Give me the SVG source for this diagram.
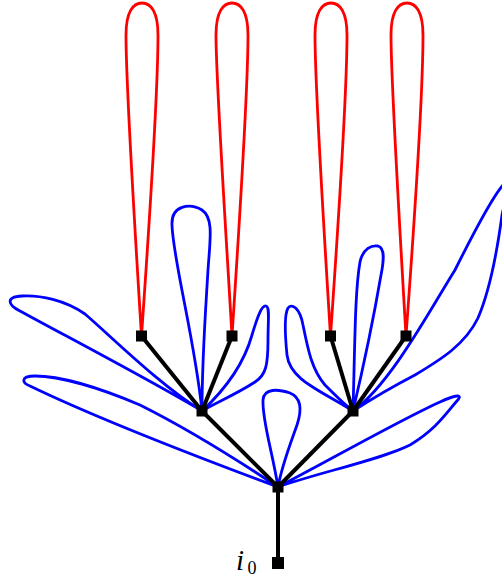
<svg xmlns="http://www.w3.org/2000/svg" width="502" height="579" viewBox="0 0 502 579">
<style>
.edge{stroke:#000;stroke-width:4;fill:none}
.blue{stroke:#0000ff;stroke-width:2.8;fill:none;stroke-linejoin:round}
.red{stroke:#ff0000;stroke-width:2.8;fill:none;stroke-linejoin:round}
.node{fill:#000}
.lbl{font-family:"Liberation Serif","DejaVu Serif",serif;fill:#000}
</style>
<rect width="502" height="579" fill="#fff"/>
<g id="connectors">
  <path class="blue" d="M202,411 C160,385 115,340 85,314 C65,300 40,295 22,296 C5,297 8,305 20,311 C60,333 150,380 202,411 Z"/>
  <path class="blue" d="M278,487 C230,455 180,425 140,405 C100,388 60,376 35,376 C20,376 22,383 30,386 C90,415 200,458 278,487 Z"/>
  <path class="blue" d="M202,411 C195,340 173,260 172,225 C171,205 190,203 202,210 C214,218 210,240 208,270 C205,320 202,360 202,411 Z"/>
  <path class="blue" d="M202,411 C230,385 245,360 252,335 C258,315 262,305 266,306 C270,307 268,320 268,340 C268,365 266,375 255,382 C235,395 215,403 202,411 Z"/>
  <path class="blue" d="M353,411 C320,390 290,380 287,355 C285,335 284,315 288,308 C292,303 300,308 303,325 C308,350 312,370 325,385 C335,395 345,405 353,411 Z"/>
  <path class="blue" d="M353,411 C355,340 355,290 360,262 C363,248 372,245 378,246 C385,248 384,260 381,275 C375,310 365,360 353,411 Z"/>
  <path class="blue" d="M353,411 C390,385 430,310 455,270 C475,230 495,192 505,183 C512,180 505,200 502,215 C498,245 490,290 478,318 C465,345 440,360 415,375 C390,388 370,400 353,411 Z"/>
  <path class="blue" d="M278,487 C272,450 262,420 263,400 C264,388 278,389 290,393 C302,398 302,410 297,425 C290,445 282,465 278,487 Z"/>
  <path class="blue" d="M278,487 C330,460 400,420 440,402 C455,395 465,393 456,402 C445,415 435,430 410,445 C380,460 320,472 278,487 Z"/>
  <path class="red" d="M141.5,336 C133,200 126,80 126,35 C126,12 133,3 142,3 C151,3 158,12 158,35 C158,80 151,200 141.5,336 Z"/>
  <path class="red" d="M232,336 C224,200 216,80 216,35 C216,12 223,3 232,3 C241,3 248,12 248,35 C248,80 241,200 232,336 Z"/>
  <path class="red" d="M330.5,336 C322,200 315,80 315,35 C315,12 322,3 331,3 C340,3 347,12 347,35 C347,80 340,200 330.5,336 Z"/>
  <path class="red" d="M406,336 C398,200 391,80 391,35 C391,12 398,3 407,3 C416,3 423,12 423,35 C423,80 416,200 406,336 Z"/>
  <line class="edge" x1="278" y1="563" x2="278" y2="487"/>
  <line class="edge" x1="278" y1="487" x2="202" y2="411"/>
  <line class="edge" x1="278" y1="487" x2="353" y2="411"/>
  <line class="edge" x1="202" y1="411" x2="141.5" y2="336"/>
  <line class="edge" x1="202" y1="411" x2="232" y2="336"/>
  <line class="edge" x1="353" y1="411" x2="330.5" y2="336"/>
  <line class="edge" x1="353" y1="411" x2="406" y2="336"/>
</g>
<g id="n_root"><rect class="node" x="272" y="557" width="12" height="12"/>
  <text class="lbl" x="236" y="570" font-size="29" font-style="italic">i</text><text class="lbl" x="247.5" y="574" font-size="18">0</text></g>
<g id="n_mid"><rect class="node" x="272.5" y="481.5" width="11" height="11"/></g>
<g id="n_left"><rect class="node" x="196.5" y="405.5" width="11" height="11"/></g>
<g id="n_right"><rect class="node" x="347.5" y="405.5" width="11" height="11"/></g>
<g id="n_l1"><rect class="node" x="136" y="330.5" width="11" height="11"/></g>
<g id="n_l2"><rect class="node" x="226.5" y="330.5" width="11" height="11"/></g>
<g id="n_l3"><rect class="node" x="325" y="330.5" width="11" height="11"/></g>
<g id="n_l4"><rect class="node" x="400.5" y="330.5" width="11" height="11"/></g>
</svg>
